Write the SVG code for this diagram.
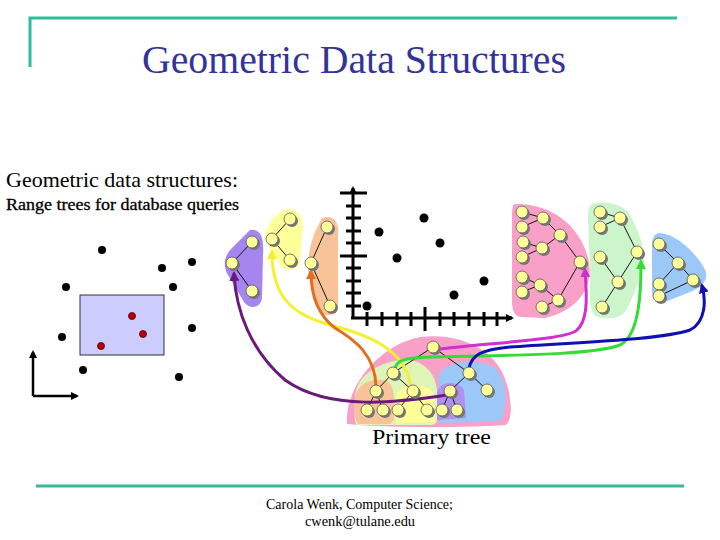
<svg xmlns="http://www.w3.org/2000/svg" xmlns:xlink="http://www.w3.org/1999/xlink" width="720" height="540" viewBox="0 0 720 540">
<style>
.teal{stroke:#33bb99;stroke-width:3;fill:none}
.serif{font-family:"Liberation Serif","Times New Roman",serif}
.dot{fill:#000}
.red{fill:#c00000;stroke:#400;stroke-width:0.8}
.ax{stroke:#000;stroke-width:3;fill:none}
.tk{stroke:#000;stroke-width:3}
.e{stroke:#000;stroke-width:0.9;fill:none}
.con{fill:none;stroke-width:3;stroke-linecap:round}
</style>
<defs>
<g id="nd"><circle cx="2" cy="2" r="6" fill="#777"/><circle r="6" fill="#ffff99" stroke="#555" stroke-width="0.8"/></g>
<marker id="ak" markerWidth="8" markerHeight="8" refX="6" refY="4" orient="auto" markerUnits="userSpaceOnUse"><path d="M0,0 L8,4 L0,8 Z" fill="#000"/></marker>
<marker id="aPu" markerWidth="10" markerHeight="10" refX="7" refY="5" orient="auto" markerUnits="userSpaceOnUse"><path d="M0,0 L10,5 L0,10 Z" fill="#6a1a7a"/></marker>
<marker id="aYe" markerWidth="10" markerHeight="10" refX="7" refY="5" orient="auto" markerUnits="userSpaceOnUse"><path d="M0,0 L10,5 L0,10 Z" fill="#f4f030"/></marker>
<marker id="aOr" markerWidth="10" markerHeight="10" refX="7" refY="5" orient="auto" markerUnits="userSpaceOnUse"><path d="M0,0 L10,5 L0,10 Z" fill="#e07020"/></marker>
<marker id="aMa" markerWidth="10" markerHeight="10" refX="7" refY="5" orient="auto" markerUnits="userSpaceOnUse"><path d="M0,0 L10,5 L0,10 Z" fill="#d030d0"/></marker>
<marker id="aGr" markerWidth="10" markerHeight="10" refX="7" refY="5" orient="auto" markerUnits="userSpaceOnUse"><path d="M0,0 L10,5 L0,10 Z" fill="#33dd33"/></marker>
<marker id="aBl" markerWidth="10" markerHeight="10" refX="7" refY="5" orient="auto" markerUnits="userSpaceOnUse"><path d="M0,0 L10,5 L0,10 Z" fill="#1010b0"/></marker>
</defs>
<rect width="720" height="540" fill="#fff"/>

<g id="frame">
<path class="teal" d="M30,67 L30,18 L677,18"/>
<line class="teal" x1="36" y1="486" x2="684" y2="486"/>
</g>
<text class="serif" x="142" y="73" font-size="40" fill="#333399" textLength="424" lengthAdjust="spacingAndGlyphs">Geometric Data Structures</text>
<text class="serif" x="6" y="187" font-size="22" fill="#000" textLength="232" lengthAdjust="spacingAndGlyphs">Geometric data structures:</text>
<text class="serif" x="6" y="210" font-size="16" fill="#000" stroke="#000" stroke-width="0.3" textLength="233" lengthAdjust="spacingAndGlyphs">Range trees for database queries</text>
<text class="serif" x="372" y="444" font-size="22" fill="#000" textLength="119" lengthAdjust="spacingAndGlyphs">Primary tree</text>
<text class="serif" x="266" y="509" font-size="14" fill="#000" textLength="187" lengthAdjust="spacingAndGlyphs">Carola Wenk, Computer Science;</text>
<text class="serif" x="305" y="526" font-size="14" fill="#000" textLength="110" lengthAdjust="spacingAndGlyphs">cwenk@tulane.edu</text>

<g id="query-plot">
<rect x="80" y="295" width="84" height="60" fill="#ccccff" stroke="#333" stroke-width="1"/>
<circle class="dot" cx="102" cy="250" r="4"/>
<circle class="dot" cx="162" cy="268" r="4"/>
<circle class="dot" cx="192" cy="262" r="4"/>
<circle class="dot" cx="66" cy="287" r="4"/>
<circle class="dot" cx="173" cy="287" r="4"/>
<circle class="dot" cx="192" cy="328" r="4"/>
<circle class="dot" cx="62" cy="337" r="4"/>
<circle class="dot" cx="83" cy="370" r="4"/>
<circle class="dot" cx="179" cy="377" r="4"/>
<circle class="red" cx="132" cy="316" r="3.5"/>
<circle class="red" cx="143" cy="334" r="3.5"/>
<circle class="red" cx="101" cy="346" r="3.5"/>
<path d="M33,396 L33,352" stroke="#000" stroke-width="2.5" marker-end="url(#ak)"/>
<path d="M33,396 L77,396" stroke="#000" stroke-width="2.5" marker-end="url(#ak)"/>
</g>

<g id="scatter-plot">
<path d="M353,318 L353,188" class="ax" marker-end="url(#ak)"/>
<path d="M351,318 L512,318" class="ax" marker-end="url(#ak)"/>
<line class="tk" x1="340" y1="193" x2="367" y2="193"/>
<line class="tk" x1="346" y1="206" x2="361" y2="206"/>
<line class="tk" x1="346" y1="218" x2="361" y2="218"/>
<line class="tk" x1="346" y1="231" x2="361" y2="231"/>
<line class="tk" x1="346" y1="243" x2="361" y2="243"/>
<line class="tk" x1="340" y1="256" x2="367" y2="256"/>
<line class="tk" x1="346" y1="268" x2="361" y2="268"/>
<line class="tk" x1="346" y1="281" x2="361" y2="281"/>
<line class="tk" x1="346" y1="293" x2="361" y2="293"/>
<line class="tk" x1="346" y1="306" x2="361" y2="306"/>
<line class="tk" x1="367" y1="312" x2="367" y2="326"/>
<line class="tk" x1="382" y1="312" x2="382" y2="326"/>
<line class="tk" x1="397" y1="312" x2="397" y2="326"/>
<line class="tk" x1="411" y1="312" x2="411" y2="326"/>
<line class="tk" x1="425" y1="307" x2="425" y2="331"/>
<line class="tk" x1="440" y1="312" x2="440" y2="326"/>
<line class="tk" x1="454" y1="312" x2="454" y2="326"/>
<line class="tk" x1="469" y1="312" x2="469" y2="326"/>
<line class="tk" x1="484" y1="312" x2="484" y2="326"/>
<line class="tk" x1="497" y1="312" x2="497" y2="326"/>
<circle class="dot" cx="379" cy="232" r="4.5"/>
<circle class="dot" cx="424" cy="218" r="4.5"/>
<circle class="dot" cx="397" cy="258" r="4.5"/>
<circle class="dot" cx="440" cy="243" r="4.5"/>
<circle class="dot" cx="484" cy="281" r="4.5"/>
<circle class="dot" cx="454" cy="295" r="4.5"/>
<circle class="dot" cx="367" cy="306" r="4.5"/>
</g>

<g id="blobs">
<path d="M250,230 C262,228 264,240 263,255 L262,298 C261,308 250,310 244,302 L228,275 C222,265 225,255 232,248 Z" fill="#a585ee"/>
<path d="M283,210 C300,206 305,220 302,235 L300,262 C298,272 285,272 280,265 L268,245 C262,235 268,220 283,210 Z" fill="#ffff99"/>
<path d="M322,218 C333,214 340,222 338,235 L338,305 C337,316 325,318 320,312 L310,280 C305,265 310,245 315,232 Z" fill="#f9c39a"/>
<path d="M515,204 C550,203 580,225 588,258 C595,285 580,310 545,318 L520,317 C513,315 512,308 512,300 L512,215 C512,208 513,204 515,204 Z" fill="#f8a0c8"/>
<path d="M592,204 C605,200 625,205 630,215 C638,230 646,250 644,262 C640,280 632,300 625,312 C618,320 600,320 594,315 C588,305 590,290 590,270 L588,220 C588,210 589,206 592,204 Z" fill="#ccf5cc"/>
<path d="M660,233 C680,235 700,258 706,272 C708,282 700,288 690,292 L665,302 C655,305 652,298 652,290 L652,245 C652,237 655,233 660,233 Z" fill="#9cc8f8"/>
<path d="M347,424 C345,385 380,345 420,337 C460,332 500,350 508,388 C512,405 512,420 506,425 C460,428 390,428 347,424 Z" fill="#f8a0c8"/>
<path d="M355,400 C355,380 370,365 400,360 C420,358 435,370 437,390 L437,420 C437,424 433,425 430,425 L358,425 C355,425 354,420 355,400 Z" fill="#dff5b8"/>
<path d="M355,398 C357,384 370,378 384,380 C396,383 394,400 394,420 L390,424 L358,424 C355,420 354,410 355,398 Z" fill="#f9c39a"/>
<path d="M396,396 C400,383 425,382 433,392 L436,422 L396,423 Z" fill="#ffff99"/>
<path d="M438,376 C445,360 480,358 495,368 C508,380 508,410 500,421 L440,423 Z" fill="#9cc8f8"/>
<path d="M437,392 C440,381 458,380 464,390 L466,418 L437,420 Z" fill="#b090f0"/>
</g>

<g id="tree-edges">
<path class="e" d="M232,263 L252,242 M232,263 L252,291"/>
<path class="e" d="M272,239 L290,219 M272,239 L290,260"/>
<path class="e" d="M311,263 L327,227 M311,263 L330,306"/>
<path class="e" d="M522,212 L543,218 M522,227 L543,218 M543,218 L560,235 M523,242 L542,248 M522,257 L542,248 M542,248 L560,235 M560,235 L580,262 M522,277 L540,285 M522,292 L540,285 M540,285 L558,300 M542,307 L558,300 M558,300 L580,262"/>
<path class="e" d="M600,212 L620,218 M600,227 L620,218 M620,218 L637,252 M600,257 L618,282 M602,307 L618,282 M618,282 L637,252"/>
<path class="e" d="M659,244 L678,263 M659,284 L678,263 M678,263 L693,280 M659,296 L693,280"/>
<path class="e" d="M433,347 L393,373 M433,347 L469,373 M393,373 L376,391 M393,373 L413,391 M469,373 L450,391 M469,373 L487,390 M376,391 L367,410 M376,391 L383,410 M413,391 L398,410 M413,391 L427,410 M450,391 L442,410 M450,391 L457,410"/>
</g>

<g id="connectors">
<path class="con" stroke="#6a1a7a" d="M447,395 C400,402 330,412 285,380 C250,350 236,310 234,274" marker-end="url(#aPu)"/>
<path class="con" stroke="#f4f030" d="M411,386 C405,350 370,335 330,325 C295,315 272,300 272,252" marker-end="url(#aYe)"/>
<path class="con" stroke="#e07020" d="M376,386 C375,355 355,340 335,328 C318,315 311,295 311,272" marker-end="url(#aOr)"/>
<path class="con" stroke="#d030d0" d="M440,349 C500,342 560,340 576,331 C590,320 586,290 585,270" marker-end="url(#aMa)"/>
<path class="con" stroke="#33dd33" d="M395,370 C395,360 405,358 430,357 C500,355 590,356 620,345 C640,335 641,290 641,262" marker-end="url(#aGr)"/>
<path class="con" stroke="#1010b0" d="M469,368 C472,355 480,350 510,347 C580,342 660,340 690,330 C706,322 706,300 702,286" marker-end="url(#aBl)"/>
</g>

<g id="nodes">
<use id="pu1" href="#nd" x="252" y="242"/><use id="pu2" href="#nd" x="232" y="263"/><use id="pu3" href="#nd" x="252" y="291"/>
<use id="ye1" href="#nd" x="290" y="219"/><use id="ye2" href="#nd" x="272" y="239"/><use id="ye3" href="#nd" x="290" y="260"/>
<use id="or1" href="#nd" x="327" y="227"/><use id="or2" href="#nd" x="311" y="263"/><use id="or3" href="#nd" x="330" y="306"/>
<use id="pk1" href="#nd" x="522" y="212"/><use id="pk2" href="#nd" x="543" y="218"/><use id="pk3" href="#nd" x="522" y="227"/>
<use id="pk4" href="#nd" x="560" y="235"/><use id="pk5" href="#nd" x="523" y="242"/><use id="pk6" href="#nd" x="542" y="248"/>
<use id="pk7" href="#nd" x="522" y="257"/><use id="pk8" href="#nd" x="580" y="262"/><use id="pk9" href="#nd" x="522" y="277"/>
<use id="pk10" href="#nd" x="540" y="285"/><use id="pk11" href="#nd" x="522" y="292"/><use id="pk12" href="#nd" x="558" y="300"/>
<use id="pk13" href="#nd" x="542" y="307"/>
<use id="gr1" href="#nd" x="600" y="212"/><use id="gr2" href="#nd" x="620" y="218"/><use id="gr3" href="#nd" x="600" y="227"/>
<use id="gr4" href="#nd" x="637" y="252"/><use id="gr5" href="#nd" x="600" y="257"/><use id="gr6" href="#nd" x="618" y="282"/>
<use id="gr7" href="#nd" x="602" y="307"/>
<use id="bl1" href="#nd" x="659" y="244"/><use id="bl2" href="#nd" x="678" y="263"/><use id="bl3" href="#nd" x="693" y="280"/>
<use id="bl4" href="#nd" x="659" y="284"/><use id="bl5" href="#nd" x="659" y="296"/>
<use id="pr1" href="#nd" x="433" y="347"/><use id="pr2" href="#nd" x="393" y="373"/><use id="pr3" href="#nd" x="469" y="373"/>
<use id="pr4" href="#nd" x="376" y="391"/><use id="pr5" href="#nd" x="413" y="391"/><use id="pr6" href="#nd" x="450" y="391"/>
<use id="pr7" href="#nd" x="487" y="390"/><use id="pr8" href="#nd" x="367" y="410"/><use id="pr9" href="#nd" x="383" y="410"/>
<use id="pr10" href="#nd" x="398" y="410"/><use id="pr11" href="#nd" x="427" y="410"/><use id="pr12" href="#nd" x="442" y="410"/>
<use id="pr13" href="#nd" x="457" y="410"/>
</g>
</svg>
